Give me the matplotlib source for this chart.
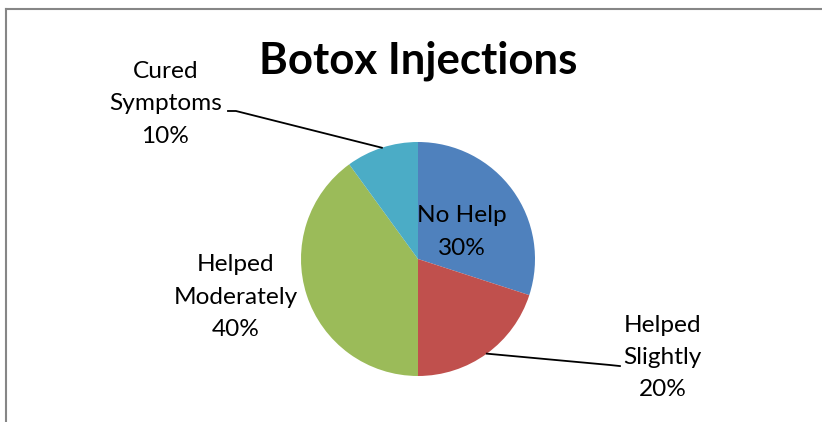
import matplotlib
matplotlib.use("Agg")
import matplotlib.pyplot as plt
import numpy as np

categories = ["No Help", "Helped Slightly", "Helped Moderately", "Cured Symptoms"]
label_text = ["No Help", "Helped\nSlightly", "Helped\nModerately", "Cured\nSymptoms"]
values = [30, 20, 40, 10]
colors = ["#4F81BD", "#C0504D", "#9BBB59", "#4BACC6"]
title = "Botox Injections"

W, H = 822, 422
fig = plt.figure(figsize=(W / 100, H / 100), dpi=100)
plt.rcParams["font.family"] = ["Lato", "DejaVu Sans"]

# chart border (only left/top visible)
fig.add_artist(plt.Line2D([6 / W, 6 / W], [0, 1 - 9 / H], color="#868686", lw=1.5))
fig.add_artist(plt.Line2D([6 / W, 1], [1 - 9 / H, 1 - 9 / H], color="#868686", lw=1.5))

cx, cy, r = 418, 422 - 259, 117
ax = fig.add_axes([(cx - r) / W, (cy - r) / H, 2 * r / W, 2 * r / H])
ax.axis("off")

wedges, _ = ax.pie(values, colors=colors, startangle=90, counterclock=False,
                   radius=1, wedgeprops=dict(linewidth=0))
ax.set_xlim(-1, 1)
ax.set_ylim(-1, 1)
ax.set_aspect("equal")

pcts = [f"{v / sum(values) * 100:.0f}%" for v in values]
fs = 17.6
# label positions (in pie radius units)
pos = {0: (0.376, 0.23), 1: (2.09, -0.84), 2: (-1.56, -0.325), 3: (-2.16, 1.325)}
for i, (lab, p) in enumerate(zip(label_text, pcts)):
    x, y = pos[i]
    ax.text(x, y, f"{lab}\n{p}", ha="center", va="center", fontsize=fs,
            linespacing=1.66, color="black", clip_on=False)

# leader lines
def mid_angle(i):
    start = 90 - sum(values[:i]) / sum(values) * 360
    end = 90 - sum(values[:i + 1]) / sum(values) * 360
    return np.deg2rad((start + end) / 2)

for i, elbow, end in [(3, (-1.556, 1.265), (-1.624, 1.265)),
                      (1, (1.641, -0.906), (1.726, -0.915))]:
    a = mid_angle(i)
    xs = [np.cos(a), elbow[0], end[0]]
    ys = [np.sin(a), elbow[1], end[1]]
    ax.plot(xs, ys, color="black", lw=1.3, clip_on=False)

fig.text(418 / W, 1 - 61 / H, title, ha="center", va="center", fontsize=31.5,
         fontweight="bold")

fig.savefig("out.png", dpi=100, facecolor="white")
